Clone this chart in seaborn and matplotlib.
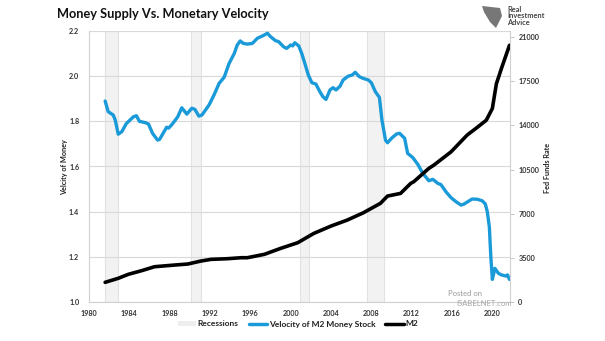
import matplotlib
matplotlib.use("Agg")
import matplotlib.pyplot as plt
import seaborn as sns
import pandas as pd
from matplotlib.patches import Patch, Polygon
from matplotlib.lines import Line2D

# ---------------- data ----------------
vel_years = [1981.6, 1981.9, 1982.4, 1982.6, 1982.9, 1983.25, 1983.7, 1984.4, 1984.7, 1985.0,
             1985.6, 1985.9, 1986.3, 1986.8, 1987.0, 1987.7, 1987.9, 1988.3, 1988.8, 1989.2,
             1989.7, 1990.2, 1990.5, 1990.9, 1991.2, 1991.9, 1992.4, 1992.9, 1993.4, 1993.9,
             1994.4, 1994.7, 1995.0, 1995.3, 1995.7, 1996.2, 1996.7, 1997.2, 1997.7, 1998.0,
             1998.5, 1998.8, 1999.3, 1999.6, 2000.0, 2000.2, 2000.4, 2000.8, 2001.1, 2001.4,
             2001.75, 2002.1, 2002.5, 2002.9, 2003.2, 2003.5, 2003.9, 2004.2, 2004.5, 2004.9,
             2005.2, 2005.7, 2006.1, 2006.4, 2006.8, 2007.2, 2007.7, 2008.0, 2008.4, 2008.8,
             2009.05, 2009.4, 2009.6, 2010.0, 2010.5, 2010.8, 2011.3, 2011.6, 2012.1, 2012.6,
             2013.1, 2013.7, 2014.1, 2014.6, 2014.9, 2015.4, 2015.9, 2016.4, 2016.9, 2017.2,
             2017.7, 2018.0, 2018.5, 2019.0, 2019.3, 2019.5, 2019.7, 2019.85, 2020.0, 2020.25,
             2020.6, 2020.9, 2021.35, 2021.5, 2021.7]
velocity = [1.89, 1.843, 1.828, 1.806, 1.743, 1.754, 1.79, 1.82, 1.825, 1.80,
            1.794, 1.788, 1.747, 1.717, 1.72, 1.774, 1.77, 1.79, 1.82, 1.86,
            1.832, 1.858, 1.853, 1.823, 1.828, 1.872, 1.917, 1.968, 1.995, 2.057,
            2.10, 2.138, 2.156, 2.145, 2.142, 2.145, 2.168, 2.178, 2.19, 2.175,
            2.157, 2.153, 2.13, 2.123, 2.138, 2.134, 2.148, 2.134, 2.10, 2.057,
            2.005, 1.971, 1.965, 1.931, 1.909, 1.897, 1.939, 1.949, 1.939, 1.956,
            1.983, 2.0, 2.005, 2.017, 1.998, 1.99, 1.983, 1.971, 1.931, 1.906,
            1.806, 1.717, 1.705, 1.725, 1.744, 1.747, 1.725, 1.658, 1.64, 1.61,
            1.57, 1.537, 1.543, 1.525, 1.52, 1.488, 1.462, 1.444, 1.429, 1.434,
            1.448, 1.456, 1.455, 1.448, 1.434, 1.40, 1.333, 1.20, 1.10, 1.149,
            1.127, 1.12, 1.115, 1.12, 1.10]

m2_years = [1981.6, 1982.9, 1983.9, 1985.2, 1986.5, 1988.5, 1989.8, 1991.1, 1992.1, 1993.7,
            1995.1, 1995.7, 1997.4, 1999.0, 2000.7, 2002.3, 2004.0, 2005.6, 2007.2, 2008.9,
            2009.6, 2010.9, 2011.9, 2012.2, 2013.7, 2014.2, 2015.9, 2017.5, 2018.5, 2019.4,
            2020.0, 2020.4, 2020.9, 2021.3, 2021.7]
m2 = [1560, 1877, 2194, 2479, 2796, 2930, 3010, 3247, 3380, 3430,
      3510, 3510, 3780, 4250, 4700, 5440, 6020, 6490, 7070, 7820,
      8395, 8610, 9400, 9530, 10590, 10850, 11900, 13230, 13840, 14410,
      15340, 17300, 18510, 19430, 20350]

recession_start = [1981.55, 1990.15, 2000.9, 2007.55]
recession_end = [1982.85, 1991.15, 2001.85, 2009.3]

x_ticks = list(range(1980, 2021, 4))
left_ticks = [1.0, 1.2, 1.4, 1.6, 1.8, 2.0, 2.2]
right_ticks = [0, 3500, 7000, 10500, 14000, 17500, 21000]

BLUE = "#1a9ad9"
FONT = "Lato"

sns.set_style("white")
plt.rcParams["font.family"] = [FONT, "DejaVu Sans"]

vel_df = pd.DataFrame({"year": vel_years, "value": velocity})
m2_df = pd.DataFrame({"year": m2_years, "value": m2})

fig = plt.figure(figsize=(6.05, 3.41), dpi=100)
ax = fig.add_axes([89 / 605, 1 - 302 / 341, (510 - 89) / 605, (302 - 31) / 341])
ax2 = ax.twinx()

# recessions (bottom axes)
for s, e in zip(recession_start, recession_end):
    ax.axvspan(s, e, facecolor="#f2f2f2", edgecolor="#e2e2e2", linewidth=0.8, zorder=0)

ax.set_ylim(1.0, 2.2)
ax.set_yticks(left_ticks)
ax.set_yticklabels([f"{t:.1f}" for t in left_ticks])
ax.yaxis.grid(True, color="#d9d9d9", linewidth=0.8)
ax.xaxis.grid(False)
ax.set_axisbelow(True)

sns.lineplot(data=vel_df, x="year", y="value", ax=ax, color=BLUE, linewidth=2.4, zorder=3)
sns.lineplot(data=m2_df, x="year", y="value", ax=ax2, color="black", linewidth=2.6, zorder=3)

ax.set_xlim(1980, 2021.75)
ax.set_xticks(x_ticks)
ax.set_xticklabels([str(t) for t in x_ticks])
ax2.set_ylim(0, 21480)
ax2.set_yticks(right_ticks)
ax2.set_yticklabels([str(t) for t in right_ticks])

for a in (ax, ax2):
    for sp in a.spines.values():
        sp.set_visible(False)
ax.spines["left"].set_visible(True)
ax.spines["left"].set_color("#d0d0d0")
ax.spines["bottom"].set_visible(True)
ax.spines["bottom"].set_color("#d0d0d0")
ax2.spines["right"].set_visible(True)
ax2.spines["right"].set_color("#d0d0d0")

tick_kw = dict(labelsize=5.2, colors="#333333")
ax.tick_params(axis="y", length=0, pad=7, **tick_kw)
ax.tick_params(axis="x", length=0, pad=6, **tick_kw)
ax2.tick_params(axis="y", length=3, width=0.6, pad=3, color="#bbbbbb", labelsize=5.2, labelcolor="#333333")
for lab in ax.get_xticklabels() + ax.get_yticklabels() + ax2.get_yticklabels():
    lab.set_fontweight("bold")

ax.set_xlabel("")
ax.set_ylabel("")
ax2.set_ylabel("")
fig.text(65 / 605, 1 - 167 / 341, "Velcity of Money", rotation=90, ha="center", va="center",
         fontsize=5.2, fontweight="bold", color="#222222")
fig.text(548 / 605, 1 - 168 / 341, "Fed Funds Rate", rotation=90, ha="center", va="center",
         fontsize=5.2, fontweight="bold", color="#222222")

# title
fig.text(57 / 605, 1 - 14 / 341, "Money Supply Vs. Monetary Velocity", ha="left", va="center",
         fontsize=9.2, fontweight="bold", color="#111111")

# logo
fig.text(507 / 605, 1 - 16 / 341, "Real\nInvestment\nAdvice", ha="left", va="center",
         fontsize=5.3, fontweight="bold", color="#444444", linespacing=0.95)
logo = Polygon([[482 / 605, 1 - 6 / 341], [500 / 605, 1 - 8 / 341], [502 / 605, 1 - 16 / 341],
                [496 / 605, 1 - 28 / 341], [490 / 605, 1 - 22 / 341], [484 / 605, 1 - 12 / 341]],
               closed=True, transform=fig.transFigure, facecolor="#777777", edgecolor="none")
fig.patches.append(logo)

# watermark
fig.text(448 / 605, 1 - 293 / 341, "Posted on", ha="left", va="center", fontsize=5.5, color="#9a9a9a")
fig.text(456 / 605, 1 - 303 / 341, "ISABELNET.com", ha="left", va="center", fontsize=5.5, color="#a8a8a8")

# legend
handles = [Patch(facecolor="#eeeeee", edgecolor="none"),
           Line2D([0], [0], color=BLUE, linewidth=2.5),
           Line2D([0], [0], color="black", linewidth=2.5)]
labels = ["Recessions", "Velocity of M2 Money Stock", "M2"]
leg = fig.legend(handles, labels, loc="center", bbox_to_anchor=(298 / 605, 1 - 324 / 341), ncol=3,
                 frameon=False, fontsize=6, handlelength=2.2, handleheight=0.6, columnspacing=1.2,
                 handletextpad=0.2)
for t in leg.get_texts():
    t.set_fontweight("bold")
    t.set_color("#222222")

fig.savefig("out.png", dpi=100)
